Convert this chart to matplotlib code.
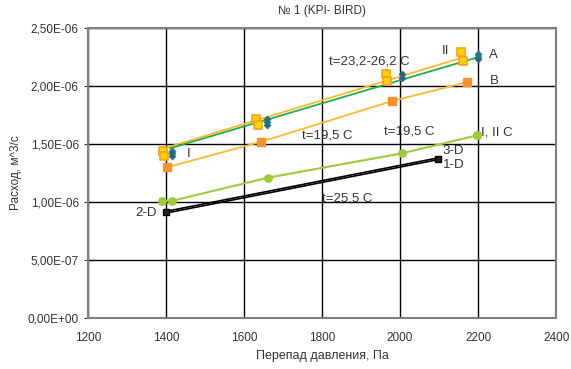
import numpy as np
import matplotlib.pyplot as plt
from matplotlib.ticker import FuncFormatter

plt.rcParams['font.family'] = ['Liberation Sans', 'DejaVu Sans']

# Series A (blue diamonds, green trend)
a_x = [1415, 1415, 1415, 1660, 1660, 1660, 2005, 2005, 2200, 2200, 2200]
a_y = [1.44e-6, 1.42e-6, 1.40e-6, 1.72e-6, 1.69e-6, 1.66e-6, 2.10e-6, 2.07e-6, 2.28e-6, 2.25e-6, 2.23e-6]
a_line_x = [1410, 2195]
a_line_y = [1.463e-6, 2.244e-6]

# Series II (yellow/orange squares, yellow trend)
ii_x = [1392, 1395, 1632, 1635, 1964, 1967, 2156, 2160]
ii_y = [1.44e-6, 1.40e-6, 1.72e-6, 1.66e-6, 2.10e-6, 2.04e-6, 2.29e-6, 2.22e-6]
ii_line_x = [1400, 2158]
ii_line_y = [1.468e-6, 2.244e-6]

# Series B (orange squares)
b_x = [1403, 1644, 1979, 2172]
b_y = [1.30e-6, 1.52e-6, 1.87e-6, 2.034e-6]

# Series C (light green)
c_x = [1389, 1415, 1661, 2005, 2197]
c_y = [1.01e-6, 1.01e-6, 1.21e-6, 1.42e-6, 1.575e-6]

# Series D (black squares, double line)
d_x = [1400, 2096]
d_y1 = [0.905e-6, 1.365e-6]
d_y3 = [0.92e-6, 1.38e-6]

fig = plt.figure(figsize=(5.71, 3.69), dpi=100)
ax = fig.add_axes([0.154, 0.138, 0.82, 0.786])

ax.plot(ii_line_x, ii_line_y, color='#ffb82e', lw=1.3, zorder=3)
ax.plot(a_line_x, a_line_y, color='#1fae4b', lw=1.3, zorder=3)
ax.plot(b_x, b_y, color='#ffb82e', lw=1.3, zorder=3)
ax.plot(c_x, c_y, color='#9dcb3b', lw=1.5, zorder=3)
ax.plot(d_x, d_y1, color='black', lw=1.2, zorder=3)
ax.plot(d_x, d_y3, color='black', lw=1.2, zorder=3)

ax.scatter(ii_x, ii_y, marker='s', s=30, c='#ffd200', edgecolors='#f7a21b', lw=1.2, zorder=4)
ax.scatter(b_x, b_y, marker='s', s=28, c='#f79329', edgecolors='#f79329', zorder=4)
ax.scatter(a_x, a_y, marker='D', s=12, c='#2a5aa8', edgecolors='#1c8a5a', lw=0.6, zorder=5)
ax.scatter([1389, 2197], [1.01e-6, 1.575e-6], marker='s', s=18, c='#f79329', zorder=4)
ax.scatter(c_x, c_y, marker='o', s=28, c='#9dcb3b', zorder=5)
ax.scatter(d_x, [0.912e-6, 1.372e-6], marker='s', s=22, c='#222222', edgecolors='black', lw=1.0, zorder=5)

ax.set_xlim(1200, 2400)
ax.set_ylim(0, 2.5e-6)
ax.set_xticks(np.arange(1200, 2401, 200))
ax.set_yticks(np.arange(0, 2.51e-6, 0.5e-6))
ax.yaxis.set_major_formatter(FuncFormatter(lambda v, p: ('%.2E' % v).replace('.', ',')))
ax.grid(True, color='black', lw=1.0)
ax.set_axisbelow(True)
for s in ax.spines.values():
    s.set_color('#808080')
    s.set_linewidth(1.5)
ax.tick_params(labelsize=8.5, colors='#333333', length=3)
ax.tick_params(axis='x', length=0, pad=10)

ax.set_title('№ 1 (KPI- BIRD)', fontsize=8.5, color='#333333', pad=10)
ax.set_xlabel('Перепад давления, Па', fontsize=9, color='#333333', labelpad=4)
ax.set_ylabel('Расход, м^3/с', fontsize=8.5, color='#333333')

tk = dict(fontsize=9.5, color='#333333', va='center')
ax.text(1818, 2.21e-6, 't=23,2-26,2 C', **tk)
ax.text(2107, 2.30e-6, 'II', **tk)
ax.text(2229, 2.27e-6, 'A', **tk)
ax.text(2229, 2.04e-6, 'B', **tk)
ax.text(1452, 1.41e-6, 'I', **tk)
ax.text(1749, 1.578e-6, 't=19,5 C', **tk)
ax.text(1959, 1.61e-6, 't=19,5 C', **tk)
ax.text(2208, 1.597e-6, 'I, II C', **tk)
ax.text(2108, 1.44e-6, '3-D', **tk)
ax.text(2110, 1.32e-6, '1-D', **tk)
ax.text(1322, 0.903e-6, '2-D', **tk)
ax.text(1800, 1.032e-6, 't=25,5 C', **tk)

fig.savefig('out.png', dpi=100)
